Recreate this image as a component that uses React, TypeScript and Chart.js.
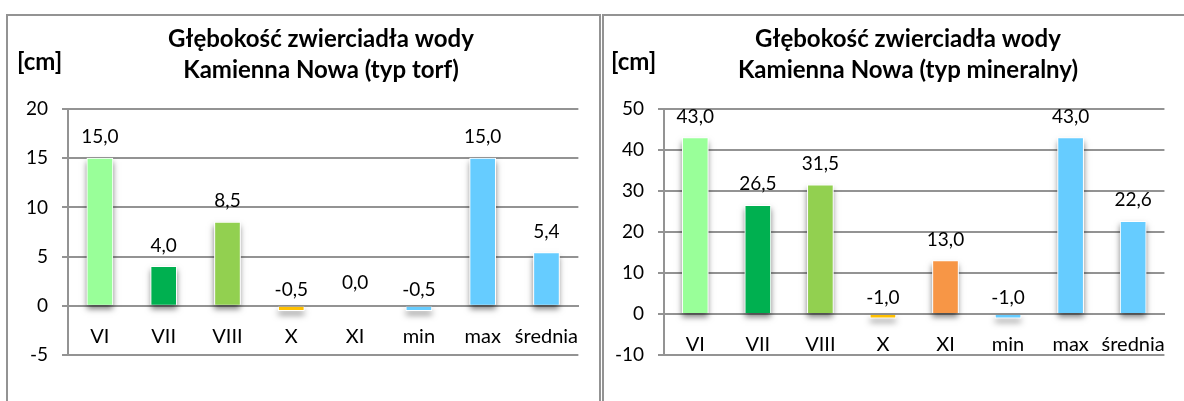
import React, { useEffect, useRef } from "react";
import { Chart, registerables } from "chart.js";

Chart.register(...registerables);

const categories = ["VI", "VII", "VIII", "X", "XI", "min", "max", "średnia"];
const torfValues = [15.0, 4.0, 8.5, -0.5, 0.0, -0.5, 15.0, 5.4];
const mineralValues = [43.0, 26.5, 31.5, -1.0, 13.0, -1.0, 43.0, 22.6];
const barColors = ["#99FF99", "#00B050", "#92D050", "#FFC000", "#F79646", "#66CCFF", "#66CCFF", "#66CCFF"];
const torfTitle = ["Głębokość zwierciadła wody", "Kamienna Nowa (typ torf)"];
const mineralTitle = ["Głębokość zwierciadła wody", "Kamienna Nowa (typ mineralny)"];
const unitLabel = "[cm]";
const torfAxis = { min: -5, max: 20, step: 5 };
const mineralAxis = { min: -10, max: 50, step: 10 };

const FONT = "Lato";
const GRID = "#939393";
const TICK_SIZE = 19;
const CAT_SIZE = 20;

const shadowPlugin = {
  id: "barShadow",
  beforeDatasetsDraw(chart: any) {
    const ctx = chart.ctx;
    const meta = chart.getDatasetMeta(0);
    ctx.save();
    ctx.shadowColor = "rgba(0,0,0,0.5)";
    ctx.shadowBlur = 6;
    ctx.shadowOffsetX = 0;
    ctx.shadowOffsetY = 4;
    ctx.fillStyle = "#ffffff";
    meta.data.forEach((b: any) => {
      const p = b.getProps(["x", "y", "base", "width"], true);
      const top = Math.min(p.y, p.base);
      const h = Math.abs(p.base - p.y);
      if (h > 0.5) ctx.fillRect(p.x - p.width / 2, top, p.width, h);
    });
    ctx.restore();
  },
};

type PanelProps = {
  values: number[];
  title: string[];
  axis: { min: number; max: number; step: number };
  left: number;
  width: number;
  axisWidth: number;
  padding: { left: number; right: number; top: number; bottom: number };
  titleX: number;
  unitX: number;
};

function Panel(props: PanelProps) {
  const ref = useRef<HTMLCanvasElement | null>(null);
  useEffect(() => {
    if (!ref.current) return;
    const textPlugin = {
      id: "texts",
      afterDraw(chart: any) {
        const ctx = chart.ctx;
        const y = chart.scales.y;
        const meta = chart.getDatasetMeta(0);
        ctx.save();
        ctx.fillStyle = "#000";
        ctx.font = `${TICK_SIZE}px ${FONT}`;
        ctx.textAlign = "center";
        ctx.textBaseline = "middle";
        props.values.forEach((v, i) => {
          const bar = meta.data[i];
          let ly;
          if (v > 0) ly = y.getPixelForValue(v) - 21;
          else if (v === 0) ly = y.getPixelForValue(0) - 23;
          else ly = y.getPixelForValue(0) - 16;
          ctx.fillText(v.toFixed(1).replace(".", ","), bar.x, ly);
        });
        ctx.font = `bold 24px ${FONT}`;
        ctx.textBaseline = "alphabetic";
        ctx.fillText(props.title[0], props.titleX, 47);
        ctx.fillText(props.title[1], props.titleX, 78);
        ctx.textAlign = "left";
        ctx.fillText(unitLabel, props.unitX, 70);
        ctx.restore();
      },
    };
    const chart = new Chart(ref.current, {
      type: "bar",
      data: {
        labels: categories,
        datasets: [
          {
            data: props.values,
            backgroundColor: barColors,
            borderColor: "#ffffff",
            borderWidth: 1,
            barThickness: 26,
          },
        ],
      },
      options: {
        animation: false,
        responsive: false,
        maintainAspectRatio: false,
        layout: { padding: props.padding },
        plugins: { legend: { display: false }, title: { display: false }, tooltip: { enabled: false } },
        scales: {
          x: {
            position: { y: 0 } as any,
            afterFit(scale: any) {
              scale.height = 0;
            },
            grid: { display: false, drawTicks: false },
            border: { display: true, color: GRID, width: 2 },
            ticks: { color: "#000", font: { family: FONT, size: CAT_SIZE }, padding: 19, maxRotation: 0, autoSkip: false },
          },
          y: {
            min: props.axis.min,
            max: props.axis.max,
            afterFit(scale: any) {
              scale.width = props.axisWidth;
            },
            grid: { color: GRID, lineWidth: 2, tickLength: 6, drawTicks: true },
            border: { display: true, color: GRID, width: 2 },
            ticks: {
              stepSize: props.axis.step,
              color: "#000",
              font: { family: FONT, size: TICK_SIZE },
              padding: 14,
              callback: (v: any) => String(v),
            },
          },
        },
      },
      plugins: [shadowPlugin, textPlugin],
    });
    return () => chart.destroy();
  }, []);
  return (
    <canvas
      ref={ref}
      width={props.width}
      height={401}
      style={{ position: "absolute", left: props.left, top: 0, width: props.width, height: 401, zIndex: 2 }}
    />
  );
}

export default function App() {
  return (
    <div style={{ position: "fixed", left: 0, top: 0, width: 1184, height: 401, overflow: "hidden", background: "#fff" }}>
      <div
        style={{
          position: "absolute",
          left: 6,
          top: 14,
          width: 595,
          height: 500,
          boxSizing: "border-box",
          border: `2px solid ${GRID}`,
        }}
      />
      <div
        style={{
          position: "absolute",
          left: 602,
          top: 14,
          width: 700,
          height: 500,
          boxSizing: "border-box",
          border: `2px solid ${GRID}`,
        }}
      />
      <Panel
        values={torfValues}
        title={torfTitle}
        axis={torfAxis}
        left={0}
        width={598}
        axisWidth={68}
        padding={{ left: 0, right: 15, top: 109, bottom: 46 }}
        titleX={321}
        unitX={17}
      />
      <Panel
        values={mineralValues}
        title={mineralTitle}
        axis={mineralAxis}
        left={604}
        width={580}
        axisWidth={60}
        padding={{ left: 0, right: 4, top: 109, bottom: 46 }}
        titleX={304}
        unitX={7}
      />
    </div>
  );
}
